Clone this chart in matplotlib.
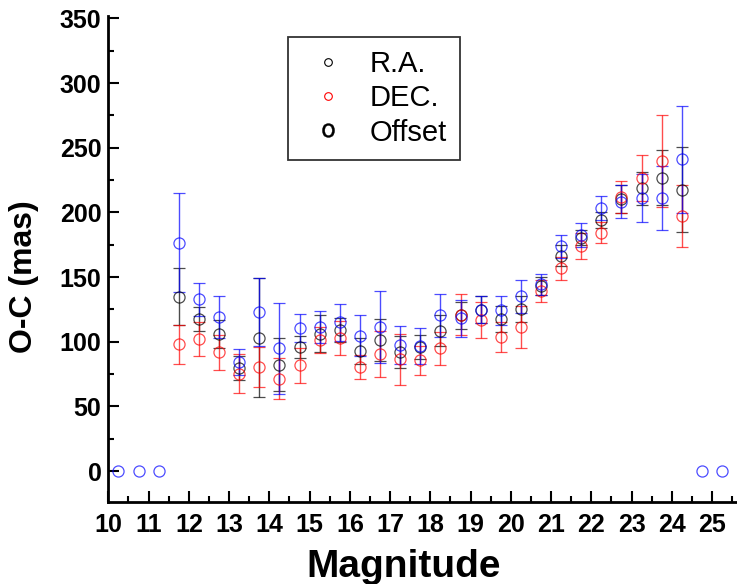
import numpy as np
import matplotlib
matplotlib.use("Agg")
import matplotlib.pyplot as plt
from matplotlib.lines import Line2D
from matplotlib.ticker import MultipleLocator

plt.rcParams['font.family'] = ['Liberation Sans', 'DejaVu Sans']

# magnitude bins
mag = np.arange(11.75, 24.26, 0.5)

ra = [134.8, 117.9, 105.9, 79.8, 103.1, 82.4, 95.9, 106.4, 109.0, 92.6, 101.3, 92.3, 96.0,
      108.5, 120.5, 124.9, 117.9, 125.6, 143.3, 166.5, 180.6, 194.2, 210.3, 218.5, 226.9, 217.7]
ra_err = [22, 9.3, 11, 9.3, 46, 20.7, 8.8, 14.2, 9.3, 10, 16.4, 12.3, 9,
          12, 10.4, 10.2, 10, 10, 7, 8, 6, 6, 11, 12.8, 21.5, 32.7]

dec = [98.0, 102.3, 91.8, 75.2, 80.6, 71.4, 81.9, 101.3, 103.1, 80.3, 90.8, 86.7, 85.7,
       94.9, 121.0, 116.7, 103.6, 111.3, 139.2, 156.8, 174.0, 184.4, 211.8, 226.6, 240.0, 197.0]
dec_err = [15, 13, 13.5, 15, 15.4, 15.8, 13.6, 10, 13, 9.4, 17.7, 19.7, 11.3,
           12.5, 16, 13.9, 11.7, 16.1, 8.5, 8.9, 10.3, 8.4, 12.3, 17.7, 35.5, 24.1]

offset = [176.7, 132.8, 119.2, 84.7, 122.8, 94.9, 111.0, 111.3, 115.1, 104.6, 111.5, 97.5, 97.0,
          120.5, 118.2, 124.9, 124.3, 135.1, 144.5, 173.7, 182.7, 203.6, 208.2, 211.3, 211.3, 241.0]
offset_err = [38, 12.5, 16, 10, 26.3, 35, 10.8, 12.5, 14.4, 15.9, 27.9, 14.5, 14,
              16.6, 14.3, 10.4, 11, 12.5, 8.2, 8.7, 9.2, 9.2, 12.7, 18.7, 24.6, 41.2]

# empty bins at both ends
mag_empty = [10.25, 10.75, 11.25, 24.75, 25.25]
offset_empty = [0, 0, 0, 0, 0]

fig = plt.figure(figsize=(7.37, 5.84), dpi=100)
ax = fig.add_axes([0.147, 0.140, 0.853, 0.833])

style = dict(fmt='o', mfc='none', ms=8, mew=0.9, elinewidth=1.0, capsize=4, capthick=1.0, alpha=0.7)
ax.errorbar(mag, ra, yerr=ra_err, color='black', **style)
ax.errorbar(mag, dec, yerr=dec_err, color='red', **style)
ax.errorbar(mag, offset, yerr=offset_err, color='blue', **style)
ax.plot(mag_empty, offset_empty, 'o', mfc='none', ms=8, mew=0.9, color='blue', alpha=0.7)

ax.set_xlim(10, 25.62)
ax.set_ylim(-24, 352)
ax.xaxis.set_major_locator(MultipleLocator(1))
ax.xaxis.set_minor_locator(MultipleLocator(0.5))
ax.yaxis.set_major_locator(MultipleLocator(50))
ax.yaxis.set_minor_locator(MultipleLocator(25))
ax.tick_params(which='both', direction='in', width=1.5, labelsize=18)
ax.tick_params(which='major', length=8)
ax.tick_params(which='minor', length=4.5)
ax.tick_params(axis='x', pad=8)
ax.tick_params(axis='y', pad=5)
for lab in ax.get_xticklabels() + ax.get_yticklabels():
    lab.set_fontweight('bold')

ax.spines['top'].set_visible(False)
ax.spines['right'].set_visible(False)
ax.spines['left'].set_linewidth(2)
ax.spines['bottom'].set_linewidth(2)

ax.set_xlabel('Magnitude', fontsize=28, fontweight='bold', va='center')
ax.set_ylabel('O-C (mas)', fontsize=23, fontweight='bold', va='center')
ax.xaxis.set_label_coords(0.47, -0.134)
ax.yaxis.set_label_coords(-0.134, 0.463)

handles = [
    Line2D([], [], ls='none', marker='o', mfc='none', mec='black', ms=5.5, mew=0.8),
    Line2D([], [], ls='none', marker='o', mfc='none', mec='red', ms=5.5, mew=0.8),
    Line2D([], [], ls='none', marker=r'$\mathrm{o}$', color='black', ms=10, mew=0.3),
]
leg = ax.legend(handles, ['R.A.', 'DEC.', 'Offset'], loc='upper left',
                bbox_to_anchor=(0.285, 0.957), fontsize=21, frameon=True, fancybox=False,
                edgecolor='black', handlelength=1.9, handletextpad=0.45, borderpad=0.45,
                labelspacing=0.22, borderaxespad=0)
leg.get_frame().set_linewidth(1.3)

fig.savefig('out.png', dpi=100)
